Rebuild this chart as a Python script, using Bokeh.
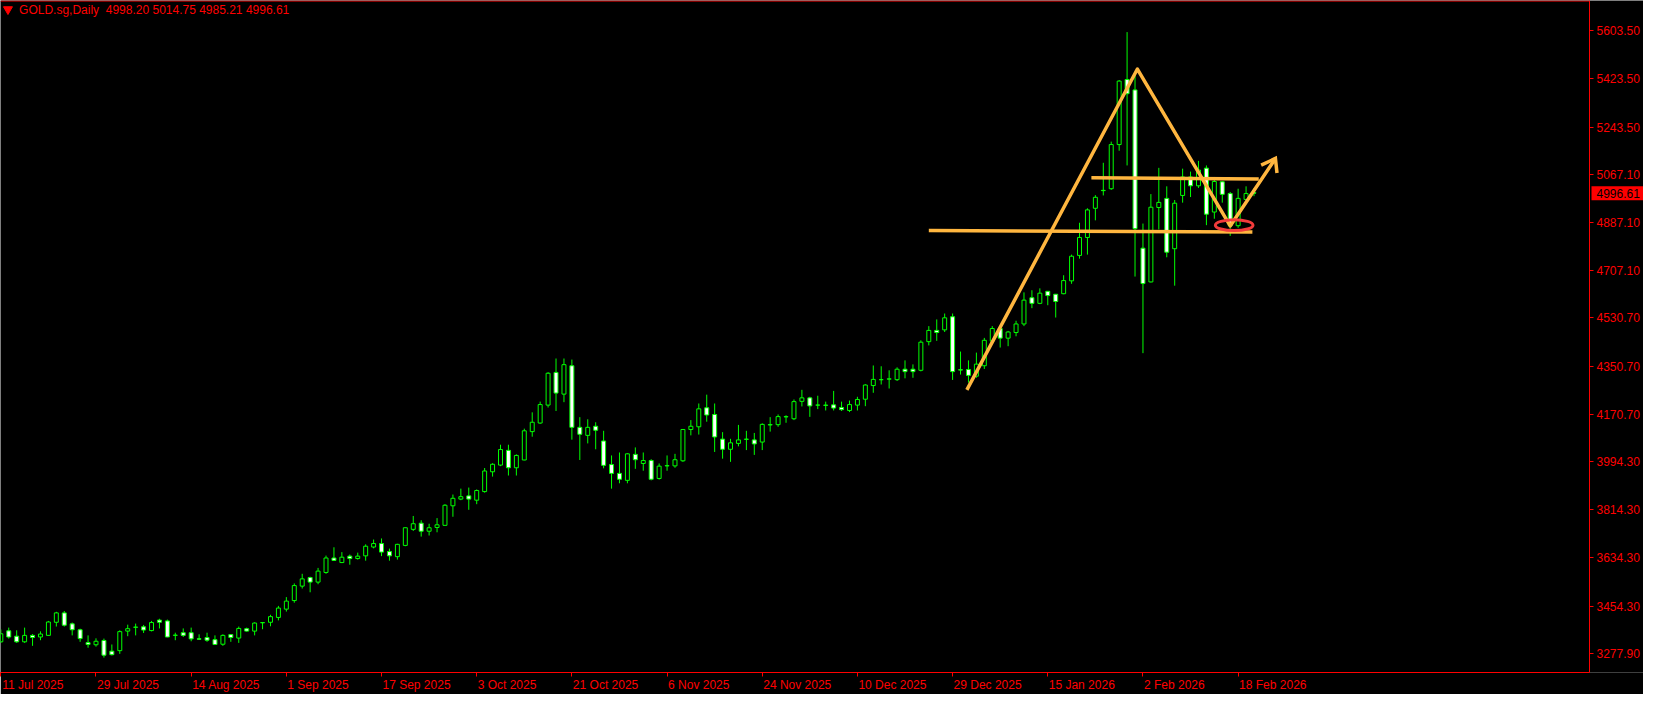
import pandas as pd
from bokeh.plotting import figure
from bokeh.models import Range1d, FixedTicker, LinearAxis, Label
from bokeh.core.properties import value
from bokeh.embed import file_html
from bokeh.resources import INLINE

# ---------------- data ----------------
symbol = "GOLD.sg,Daily"
first_day = "2025-07-11"
holidays = ["2025-12-25", "2026-01-01"]

opens = [3321, 3362, 3342, 3321, 3345, 3339, 3345, 3394, 3429, 3388,
         3366, 3318, 3310, 3326, 3286, 3288, 3361, 3375, 3377, 3363,
         3402, 3399, 3345, 3355, 3355, 3332, 3337, 3329, 3312, 3348,
         3335, 3370, 3361, 3392, 3394, 3412, 3443, 3475, 3529, 3561,
         3544, 3580, 3634, 3617, 3641, 3632, 3642, 3675, 3688, 3658,
         3639, 3681, 3741, 3764, 3734, 3748, 3756, 3829, 3854, 3866,
         3850, 3882, 3956, 3981, 4036, 3971, 4000, 4106, 4138, 4205,
         4327, 4246, 4352, 4122, 4092, 4126, 4071, 3983, 3950, 3924,
         4021, 3987, 3998, 3931, 3978, 3978, 3997, 4114, 4124, 4195,
         4170, 4078, 4040, 4062, 4077, 4075, 4067, 4132, 4132, 4161,
         4154, 4219, 4232, 4205, 4205, 4206, 4196, 4185, 4205, 4227,
         4278, 4300, 4302, 4300, 4339, 4339, 4335, 4442, 4484, 4486,
         4535, 4337, 4338, 4313, 4352, 4444, 4491, 4455, 4476, 4508,
         4606, 4585, 4630, 4619, 4621, 4669, 4764, 4831, 4940, 5007,
         5013, 5178, 5421, 5382, 4791, 4665, 4943, 4977, 4789, 4988,
         5057, 5024, 5090, 4926, 5039, 4995, 4875, 4973, 4998.20]
highs = [3367, 3374, 3364, 3374, 3350, 3360, 3399, 3433, 3436, 3393,
         3370, 3345, 3334, 3333, 3311, 3364, 3385, 3389, 3384, 3399,
         3407, 3404, 3355, 3371, 3374, 3349, 3355, 3345, 3349, 3350,
         3378, 3374, 3394, 3395, 3422, 3455, 3488, 3539, 3575, 3564,
         3597, 3643, 3674, 3656, 3647, 3654, 3685, 3703, 3707, 3669,
         3687, 3748, 3791, 3775, 3762, 3783, 3835, 3871, 3893, 3897,
         3890, 3970, 3988, 4057, 4057, 4021, 4117, 4178, 4218, 4328,
         4379, 4379, 4375, 4160, 4152, 4141, 4109, 4017, 4028, 4025,
         4047, 4028, 4003, 3987, 4017, 4023, 4115, 4149, 4211, 4244,
         4211, 4104, 4079, 4131, 4109, 4101, 4137, 4160, 4170, 4167,
         4226, 4262, 4236, 4240, 4218, 4258, 4218, 4222, 4236, 4283,
         4353, 4350, 4335, 4346, 4372, 4357, 4447, 4500, 4525, 4547,
         4547, 4405, 4372, 4401, 4456, 4500, 4500, 4482, 4520, 4626,
         4634, 4641, 4631, 4620, 4690, 4767, 4886, 4940, 4989, 5110,
         5189, 5419, 5598, 5446, 4883, 4993, 5091, 5022, 4971, 5088,
         5077, 5117, 5100, 5057, 5041, 5001, 5013, 5022, 5014.75]
lows = [3317, 3333, 3317, 3317, 3306, 3327, 3343, 3378, 3378, 3345,
        3321, 3299, 3303, 3262, 3270, 3276, 3342, 3345, 3354, 3360,
        3371, 3338, 3327, 3339, 3323, 3328, 3321, 3309, 3306, 3321,
        3317, 3359, 3345, 3368, 3379, 3401, 3434, 3467, 3520, 3506,
        3536, 3575, 3623, 3615, 3609, 3628, 3624, 3670, 3641, 3624,
        3628, 3678, 3735, 3714, 3718, 3730, 3755, 3788, 3850, 3814,
        3835, 3878, 3938, 3977, 3942, 3942, 3999, 4087, 4135, 4196,
        4183, 4216, 4076, 4000, 4062, 4040, 3969, 3893, 3913, 3913,
        3967, 3960, 3924, 3927, 3960, 3971, 3993, 4092, 4095, 4143,
        4030, 4005, 3993, 4051, 4037, 4019, 4037, 4106, 4124, 4139,
        4149, 4200, 4161, 4190, 4185, 4185, 4183, 4179, 4185, 4201,
        4251, 4282, 4267, 4295, 4305, 4307, 4331, 4428, 4445, 4478,
        4299, 4319, 4289, 4307, 4340, 4435, 4420, 4425, 4462, 4500,
        4567, 4582, 4578, 4532, 4619, 4658, 4752, 4767, 4895, 4988,
        5009, 5155, 5100, 4685, 4399, 4663, 4861, 4757, 4651, 4961,
        4982, 5016, 4877, 4901, 4961, 4837, 4867, 4965, 4985.21]
closes = [3351, 3339, 3321, 3345, 3337, 3350, 3395, 3429, 3383, 3366,
          3333, 3311, 3323, 3271, 3273, 3359, 3370, 3376, 3365, 3393,
          3394, 3339, 3346, 3345, 3332, 3331, 3327, 3311, 3345, 3337,
          3371, 3361, 3391, 3393, 3415, 3447, 3473, 3531, 3556, 3544,
          3585, 3634, 3625, 3637, 3632, 3641, 3678, 3688, 3656, 3642,
          3685, 3747, 3762, 3734, 3747, 3758, 3831, 3857, 3863, 3854,
          3886, 3959, 3984, 4039, 3971, 4017, 4109, 4141, 4207, 4324,
          4250, 4356, 4122, 4096, 4122, 4111, 3980, 3950, 3928, 4023,
          4001, 3998, 3928, 3977, 3979, 4001, 4114, 4126, 4191, 4168,
          4086, 4040, 4064, 4075, 4078, 4060, 4133, 4131, 4162, 4162,
          4218, 4232, 4202, 4205, 4204, 4194, 4188, 4207, 4226, 4280,
          4301, 4300, 4303, 4339, 4330, 4330, 4440, 4484, 4476, 4531,
          4330, 4336, 4316, 4358, 4447, 4491, 4455, 4478, 4508, 4597,
          4585, 4623, 4614, 4592, 4670, 4761, 4831, 4934, 4981, 5006,
          5178, 5415, 5368, 4864, 4659, 4944, 4962, 4776, 4959, 5057,
          5024, 5083, 4918, 5040, 4992, 4875, 4977, 4995, 4996.61]

y_tick_labels = ["3277.90", "3454.30", "3634.30", "3814.30", "3994.30",
                 "4170.70", "4350.70", "4530.70", "4707.10", "4887.10",
                 "5067.10", "5243.50", "5423.50", "5603.50"]

# hand-drawn objects on the chart (bar index, price)
zigzag_bar = [121.8, 143.3, 155.0, 160.7]
zigzag_price = [4262, 5460, 4874, 5126]
arrow_barb_bar = [158.9, 160.7, 160.9]
arrow_barb_price = [5101, 5126, 5072]
support_bar = [117.0, 157.8]
support_price = [4857, 4851]
resist_bar = [137.5, 158.6]
resist_price = [5054, 5049]
circle_bar = [155.5]
circle_price = [4877]

# ---------------- derived ----------------
n = len(opens)
days = pd.bdate_range(first_day, periods=n + 10)
days = days[~days.isin(pd.to_datetime(holidays))][:n]
idx = list(range(n))
tick_idx = list(range(0, n, 12))
x_tick_labels = [f"{days[i].day} {days[i].strftime('%b %Y')}" for i in tick_idx]

RED = "#FF0000"
LIME = "#00FF00"
ORANGE = "#FFB63F"
FONT = "Liberation Sans"

FRAME_W, FRAME_H = 1643, 672
x0, x_border = -0.04, 200.3           # chart area ends at the price scale
px_per_bar = 1589 / (x_border - x0)
x_end = x0 + FRAME_W / px_per_bar
y0, y1 = 3206.4, 5716.0
price_per_px = (y1 - y0) / FRAME_H

p = figure(frame_width=FRAME_W, frame_height=FRAME_H,
           x_range=Range1d(x0, x_end), y_range=Range1d(y0, y1),
           y_axis_location="right", toolbar_location=None,
           output_backend="svg", min_border_left=0, min_border_top=0,
           min_border_right=0, min_border_bottom=0)
p.background_fill_color = "#000000"
p.border_fill_color = "#000000"
p.outline_line_color = None
p.grid.visible = False

# price scale drawn at the right edge of the chart area
yax = p.yaxis[0]
yax.fixed_location = x_border
yax.ticker = FixedTicker(ticks=[float(s) for s in y_tick_labels])
yax.major_label_overrides = {float(s): s for s in y_tick_labels}
yax.axis_line_color = RED
yax.major_tick_line_color = RED
yax.major_tick_in = 0
yax.major_tick_out = 4
yax.minor_tick_line_color = None
yax.major_label_standoff = 3
yax.major_label_text_color = RED
yax.major_label_text_font = FONT
yax.major_label_text_font_size = "12px"

# bottom axis: border line and tick marks only
xax = p.xaxis[0]
xax.bounds = (x0, x_border)
xax.ticker = FixedTicker(ticks=tick_idx)
xax.axis_line_color = RED
xax.major_tick_line_color = RED
xax.major_tick_in = 0
xax.major_tick_out = 4
xax.minor_tick_line_color = None
xax.major_label_text_color = None
xax.major_label_text_font_size = "1px"
xax.major_label_standoff = 0

# bottom axis: date labels, left-aligned at their ticks
char_w = {" ": 3.33, "J": 6.0, "u": 6.67, "l": 2.67, "A": 8.0, "g": 6.67, "S": 8.0,
          "e": 6.67, "p": 6.67, "O": 9.33, "c": 6.0, "t": 3.33, "N": 8.67, "o": 6.67,
          "v": 6.0, "D": 8.67, "F": 7.33, "b": 6.67, "a": 6.67, "n": 6.67}
lab_pos = []
overrides = {}
for i, s in zip(tick_idx, x_tick_labels):
    w = sum(char_w.get(ch, 6.67) for ch in s)
    pos = round(i + (w / 2 + 1) / px_per_bar, 4)
    lab_pos.append(pos)
    overrides[pos] = s
lax = LinearAxis(ticker=FixedTicker(ticks=lab_pos), major_label_overrides=overrides)
lax.axis_line_color = None
lax.major_tick_line_color = None
lax.major_tick_in = 0
lax.major_tick_out = 0
lax.minor_tick_line_color = None
lax.major_label_standoff = 1
lax.major_label_text_color = RED
lax.major_label_text_font = FONT
lax.major_label_text_font_size = "12px"
p.add_layout(lax, "below")

# top border of the chart area
top_line = y1 - 0.5 * price_per_px
p.segment(x0=[x0], y0=[top_line], x1=[x_border], y1=[top_line], line_color=RED, line_width=1)

# candles
tops = [max(o, c) for o, c in zip(opens, closes)]
bots = [min(o, c) for o, c in zip(opens, closes)]
fills = ["#000000" if c >= o else "#FFFFFF" for o, c in zip(opens, closes)]
p.segment(x0=idx, y0=lows, x1=idx, y1=highs, line_color=LIME, line_width=1)
p.vbar(x=idx, top=tops, bottom=bots, width=0.5, fill_color=fills,
       line_color=LIME, line_width=1)

# drawn objects
p.line(support_bar, support_price, line_color=ORANGE, line_width=3.5)
p.line(resist_bar, resist_price, line_color=ORANGE, line_width=3.5)
p.line(zigzag_bar, zigzag_price, line_color=ORANGE, line_width=3.5, line_join="round")
p.line(arrow_barb_bar, arrow_barb_price, line_color=ORANGE, line_width=3.5, line_join="miter")
p.ellipse(x=circle_bar, y=circle_price, width=4.75, height=40, fill_color=None,
          line_color="#F23B3B", line_width=3)

# header
p.scatter(x=[0.9], y=[5683], marker="inverted_triangle", size=9,
          fill_color=RED, line_color=RED)
header = (symbol + "\u00a0\u00a0" + " ".join(
    f"{v:.2f}" for v in (opens[-1], highs[-1], lows[-1], closes[-1])))
p.add_layout(Label(x=2.3, y=5679, text=header, text_color=RED, text_font=FONT,
                   text_font_size="12px", text_baseline="middle", text_align="left"))

# current price tag on the price scale
tag_h = 14 * price_per_px
last = closes[-1]
p.quad(left=[x_border + 2 / px_per_bar], right=[x_end], bottom=[last - tag_h / 2],
       top=[last + tag_h / 2], fill_color=RED, line_color=None)
p.text(x=[x_border + 7 / px_per_bar], y=[last], text=[f"{last:.2f}"],
       text_color="#000000", text_font=value(FONT), text_font_size="12px",
       text_baseline="middle", text_align="left")

open("out.html", "w").write(file_html(p, INLINE))
